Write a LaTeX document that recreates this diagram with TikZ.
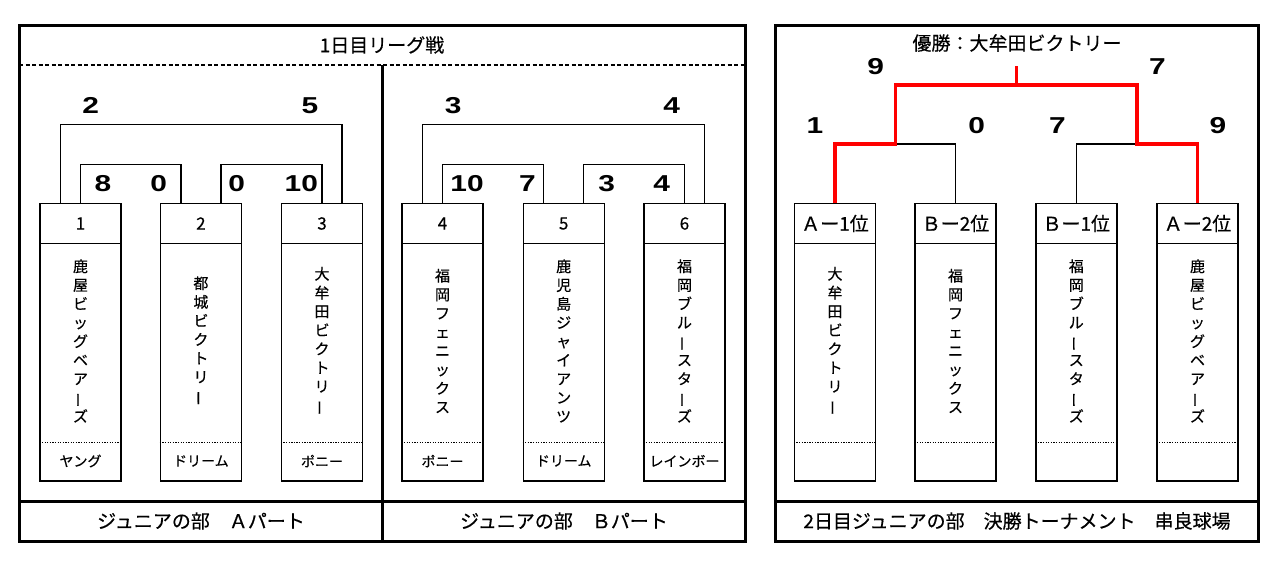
\documentclass[tikz,border=0pt]{standalone}
\usepackage{fontspec}
\usepackage{graphicx}
\newfontfamily\jp[FakeBold=0.4]{Noto Sans CJK JP}
\newfontfamily\scorefont[FakeStretch=1.3]{Liberation Sans}
\newcommand{\vb}{\rotatebox[origin=c]{90}{ー}}
\tikzset{
  frameln/.style={line width=3pt},
  dashln/.style={line width=1.2pt, dash pattern=on 4pt off 2.5pt},
  br/.style={line width=1.3pt},
  winln/.style={line width=3.2pt, draw=red, line join=miter},
  hdrA/.style={draw, line width=1.4pt, minimum width=81pt, minimum height=40pt, inner sep=0pt, font=\jp\fontsize{17}{17}\selectfont},
  hdrR/.style={draw, line width=1.4pt, minimum width=81pt, minimum height=40pt, inner sep=0pt, font=\jp\fontsize{19}{19}\selectfont},
  bodybox/.style={draw, line width=1.4pt, minimum width=81pt, minimum height=237.5pt, inner sep=0pt},
  dotln/.style={line width=1.5pt, dash pattern=on 1.3pt off 1.3pt},
  vtext/.style={align=center, inner sep=0pt, font=\jp\fontsize{15}{18.75}\selectfont},
  lbl/.style={inner sep=0pt, font=\jp\fontsize{14}{14}\selectfont},
  score/.style={inner sep=0pt, font=\scorefont\bfseries\fontsize{23}{23}\selectfont},
  bigtxt/.style={inner sep=0pt, font=\jp\fontsize{19}{19}\selectfont},
}
% #1 name, #2 x centre, #3 header style, #4 header text, #5 vertical name
\newcommand{\team}[5]{%
  \node[#3] (#1h) at (#2,223.5) {#4};
  \node[bodybox] (#1b) at (#2,362.25) {};
  \draw[dotln] ([yshift=39.3pt]#1b.south west) -- ([yshift=39.3pt]#1b.south east);
  \node[vtext] (#1v) at (#2,341) {#5};
}
\begin{document}
\begin{tikzpicture}[x=1pt,y=-1pt]
\useasboundingbox (0,0) rectangle (1280,568);
\fill[white] (0,0) rectangle (1280,568);

% ---------- league frame ----------
\draw[frameln] (19,25) rectangle (745,541);
\draw[dashln] (19,65) -- (745,65);
\draw[frameln] (382,65) -- (382,541);
\draw[frameln] (19,501) -- (745,501);
\node[bigtxt] (t1) at (382,45) {1日目リーグ戦};
\node[bigtxt] (pa) at (201,521) {ジュニアの部　Ａパート};
\node[bigtxt] (pb) at (564,521) {ジュニアの部　Ｂパート};

% A part
\team{A1}{80.5}{hdrA}{1}{鹿\\屋\\ビ\\ッ\\グ\\ベ\\ア\\\vb\\ズ}
\team{A2}{200.9}{hdrA}{2}{都\\城\\ビ\\ク\\ト\\リ\\\vb}
\team{A3}{322}{hdrA}{3}{大\\牟\\田\\ビ\\ク\\ト\\リ\\\vb}
\node[lbl] (A1l) at (80.5,461) {ヤング};
\node[lbl] (A2l) at (200.9,461) {ドリーム};
\node[lbl] (A3l) at (322,461) {ポニー};

\draw[br] ([xshift=-20pt]A1h.north) -- ++(0,-78) -| ([xshift=20pt]A3h.north);
\draw[br] (A1h.north) -- ++(0,-38.5) -| ([xshift=-20pt]A2h.north);
\draw[br] ([xshift=20pt]A2h.north) -- ++(0,-38.5) -| (A3h.north);

\node[score] (sa1) at (90.8,105.8) {2};
\node[score] (sa2) at (310,105.8) {5};
\node[score] (sa3) at (103,183.7) {8};
\node[score] (sa4) at (158.7,183.7) {0};
\node[score] (sa5) at (236.7,183.7) {0};
\node[score] (sa6) at (301.3,183.7) {10};

% B part
\team{B4}{442.5}{hdrA}{4}{福\\岡\\フ\\ェ\\ニ\\ッ\\ク\\ス}
\team{B5}{563.7}{hdrA}{5}{鹿\\児\\島\\ジ\\ャ\\イ\\ア\\ン\\ツ}
\team{B6}{684.5}{hdrA}{6}{福\\岡\\ブ\\ル\\\vb\\ス\\タ\\\vb\\ズ}
\node[lbl] (B4l) at (442.5,461) {ポニー};
\node[lbl] (B5l) at (563.7,461) {ドリーム};
\node[lbl] (B6l) at (684.5,461) {レインボー};

\draw[br] ([xshift=-20pt]B4h.north) -- ++(0,-78) -| ([xshift=20pt]B6h.north);
\draw[br] (B4h.north) -- ++(0,-38.5) -| ([xshift=-20pt]B5h.north);
\draw[br] ([xshift=20pt]B5h.north) -- ++(0,-38.5) -| (B6h.north);

\node[score] (sb1) at (453.3,105.8) {3};
\node[score] (sb2) at (671.7,105.8) {4};
\node[score] (sb3) at (467,183.7) {10};
\node[score] (sb4) at (527.5,183.7) {7};
\node[score] (sb5) at (606.7,183.7) {3};
\node[score] (sb6) at (661.7,183.7) {4};

% ---------- tournament frame ----------
\draw[frameln] (775,25) rectangle (1258,541);
\draw[frameln] (775,501) -- (1258,501);
\node[bigtxt] (champ) at (1017,43) {優勝：大牟田ビクトリー};
\node[bigtxt] (pr) at (1017,521) {2日目ジュニアの部　決勝トーナメント　串良球場};

\team{R1}{835}{hdrR}{Ａー1位}{大\\牟\\田\\ビ\\ク\\ト\\リ\\\vb}
\team{R2}{955.5}{hdrR}{Ｂー2位}{福\\岡\\フ\\ェ\\ニ\\ッ\\ク\\ス}
\team{R3}{1076.3}{hdrR}{Ｂー1位}{福\\岡\\ブ\\ル\\\vb\\ス\\タ\\\vb\\ズ}
\team{R4}{1197.5}{hdrR}{Ａー2位}{鹿\\屋\\ビ\\ッ\\グ\\ベ\\ア\\\vb\\ズ}

\coordinate (m1) at (895.3,144);
\coordinate (m2) at (1136.9,144);
\coordinate (tp) at (1016.1,85);
\coordinate (wn) at (1016.1,66);

\draw[br] (R1h.north) |- (m1) -| (R2h.north);
\draw[br] (R3h.north) |- (m2) -| (R4h.north);
\draw[br] (m1) |- (tp) -| (m2);
\draw[winln] (R1h.north) |- (m1) |- (tp) -| (m2) -| (R4h.north);
\draw[winln] (tp) -- (wn);

\node[score] (sr1) at (875.8,66.5) {9};
\node[score] (sr2) at (1157.5,66.5) {7};
\node[score] (sr3) at (815,125.8) {1};
\node[score] (sr4) at (976.7,125.8) {0};
\node[score] (sr5) at (1057.5,125.8) {7};
\node[score] (sr6) at (1218,125.8) {9};
\end{tikzpicture}
\end{document}
